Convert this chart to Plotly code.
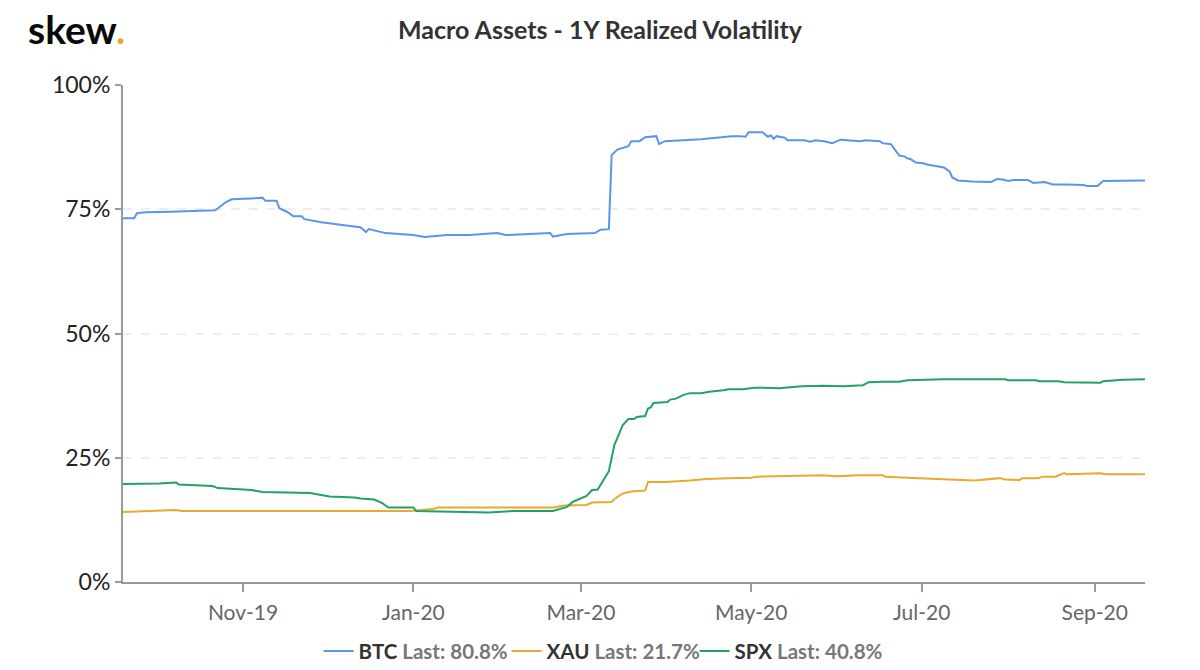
import plotly.graph_objects as go

btc_dates = ["2019-09-19", "2019-09-23", "2019-09-24", "2019-09-27", "2019-10-06", "2019-10-17", "2019-10-22",
             "2019-10-23", "2019-10-26", "2019-10-28", "2019-11-08", "2019-11-09", "2019-11-13", "2019-11-14",
             "2019-11-17", "2019-11-19", "2019-11-22", "2019-11-23", "2019-11-29", "2019-12-10", "2019-12-13",
             "2019-12-15", "2019-12-16", "2019-12-22", "2019-12-26", "2020-01-01", "2020-01-05", "2020-01-13",
             "2020-01-21", "2020-01-31", "2020-02-03", "2020-02-14", "2020-02-19", "2020-02-20", "2020-02-25",
             "2020-03-06", "2020-03-08", "2020-03-11", "2020-03-12", "2020-03-14", "2020-03-18", "2020-03-19",
             "2020-03-22", "2020-03-24", "2020-03-28", "2020-03-29", "2020-03-31", "2020-04-13", "2020-04-24",
             "2020-04-27", "2020-04-29", "2020-04-30", "2020-05-05", "2020-05-07", "2020-05-08", "2020-05-09",
             "2020-05-10", "2020-05-13", "2020-05-14", "2020-05-20", "2020-05-22", "2020-05-24", "2020-05-27",
             "2020-05-30", "2020-06-02", "2020-06-09", "2020-06-11", "2020-06-16", "2020-06-17", "2020-06-20",
             "2020-06-22", "2020-06-23", "2020-06-25", "2020-06-26", "2020-06-27", "2020-06-29", "2020-07-02",
             "2020-07-03", "2020-07-09", "2020-07-11", "2020-07-12", "2020-07-14", "2020-07-19", "2020-07-26",
             "2020-07-28", "2020-07-30", "2020-08-01", "2020-08-03", "2020-08-08", "2020-08-10", "2020-08-14",
             "2020-08-17", "2020-08-22", "2020-08-25", "2020-08-28", "2020-08-29", "2020-09-02", "2020-09-04",
             "2020-09-19"]
btc_vals = [73.2, 73.2, 74.2, 74.4, 74.5, 74.7, 74.8,
            75.2, 76.5, 77.0, 77.3, 76.7, 76.7, 75.2,
            74.4, 73.6, 73.6, 73.0, 72.4, 71.6, 71.4,
            70.4, 71.0, 70.2, 70.0, 69.8, 69.4, 69.8,
            69.8, 70.2, 69.8, 70.0, 70.2, 69.5, 70.0,
            70.2, 70.9, 71.0, 85.9, 87.0, 87.7, 88.7,
            88.7, 89.5, 89.7, 88.1, 88.7, 89.1, 89.7,
            89.7, 89.6, 90.5, 90.5, 89.6, 89.9, 89.2,
            89.7, 89.4, 88.9, 88.9, 88.6, 88.9, 88.7,
            88.3, 89.0, 88.7, 88.9, 88.7, 88.3, 88.1,
            86.6, 85.8, 85.6, 85.2, 85.1, 84.4, 84.2,
            84.0, 83.4, 82.6, 81.4, 80.8, 80.6, 80.5,
            81.1, 81.0, 80.7, 80.9, 80.9, 80.3, 80.5,
            80.0, 80.0, 79.9, 79.9, 79.7, 79.7, 80.7,
            80.8]

xau_dates = ["2019-09-19", "2019-09-27", "2019-10-03", "2019-10-08", "2019-10-10", "2019-10-26", "2019-11-25",
             "2019-11-29", "2019-12-19", "2019-12-31", "2020-01-04", "2020-01-08", "2020-01-10", "2020-01-23",
             "2020-01-25", "2020-02-12", "2020-02-20", "2020-02-24", "2020-03-03", "2020-03-05", "2020-03-12",
             "2020-03-13", "2020-03-16", "2020-03-19", "2020-03-24", "2020-03-25", "2020-03-31", "2020-04-09",
             "2020-04-15", "2020-04-23", "2020-05-01", "2020-05-03", "2020-05-14", "2020-05-27", "2020-05-31",
             "2020-06-09", "2020-06-17", "2020-06-18", "2020-06-30", "2020-07-14", "2020-07-20", "2020-07-29",
             "2020-07-31", "2020-08-05", "2020-08-06", "2020-08-12", "2020-08-13", "2020-08-18", "2020-08-21",
             "2020-08-22", "2020-09-03", "2020-09-05", "2020-09-19"]
xau_vals = [14.1, 14.3, 14.5, 14.5, 14.3, 14.3, 14.3,
            14.2, 14.2, 14.3, 14.5, 14.7, 15.0, 15.0,
            14.9, 15.0, 15.0, 15.4, 15.5, 16.0, 16.1,
            16.7, 17.8, 18.2, 18.4, 20.1, 20.1, 20.4,
            20.7, 20.9, 21.0, 21.2, 21.3, 21.5, 21.3,
            21.5, 21.5, 21.2, 20.9, 20.6, 20.4, 20.9,
            20.6, 20.5, 20.9, 20.9, 21.2, 21.2, 21.9,
            21.7, 21.9, 21.7, 21.7]

spx_dates = ["2019-09-19", "2019-10-02", "2019-10-08", "2019-10-09", "2019-10-21", "2019-10-23", "2019-11-04",
             "2019-11-08", "2019-11-25", "2019-12-02", "2019-12-11", "2019-12-13", "2019-12-18", "2019-12-21",
             "2019-12-23", "2020-01-01", "2020-01-02", "2020-01-18", "2020-01-28", "2020-02-06", "2020-02-20",
             "2020-02-25", "2020-02-27", "2020-03-03", "2020-03-05", "2020-03-07", "2020-03-11", "2020-03-13",
             "2020-03-16", "2020-03-18", "2020-03-20", "2020-03-21", "2020-03-24", "2020-03-25", "2020-03-26",
             "2020-03-27", "2020-04-01", "2020-04-02", "2020-04-04", "2020-04-07", "2020-04-09", "2020-04-13",
             "2020-04-16", "2020-04-21", "2020-04-23", "2020-04-28", "2020-05-02", "2020-05-11", "2020-05-19",
             "2020-05-27", "2020-06-03", "2020-06-10", "2020-06-12", "2020-06-17", "2020-06-23", "2020-06-26",
             "2020-07-09", "2020-07-31", "2020-08-01", "2020-08-11", "2020-08-12", "2020-08-19", "2020-08-21",
             "2020-09-03", "2020-09-04", "2020-09-11", "2020-09-19"]
spx_vals = [19.7, 19.8, 20.0, 19.6, 19.3, 18.9, 18.5,
            18.1, 17.9, 17.2, 17.0, 16.8, 16.6, 15.8,
            15.0, 15.0, 14.3, 14.1, 14.0, 14.3, 14.3,
            15.1, 16.1, 17.3, 18.5, 18.6, 22.3, 27.6,
            31.6, 32.8, 32.8, 33.2, 33.4, 34.9, 35.1,
            36.0, 36.2, 36.7, 36.9, 37.7, 38.0, 38.0,
            38.3, 38.6, 38.8, 38.8, 39.1, 39.0, 39.4,
            39.5, 39.4, 39.6, 40.2, 40.3, 40.3, 40.6,
            40.8, 40.8, 40.6, 40.6, 40.4, 40.4, 40.2,
            40.1, 40.4, 40.7, 40.8]

x_ticks = ["2019-11-01", "2020-01-01", "2020-03-01", "2020-05-01", "2020-07-01", "2020-09-01"]
x_labels = ["Nov-19", "Jan-20", "Mar-20", "May-20", "Jul-20", "Sep-20"]
y_ticks = [0, 25, 50, 75, 100]
y_labels = ["0%", "25%", "50%", "75%", "100%"]

BLUE = "#5b94f0"
ORANGE = "#e9a82e"
GREEN = "#22a262"


def legend_name(sym, last):
    return "<b>" + sym + " <span style='color:#777777'>Last: " + last + "</span></b>"


fig = go.Figure()
fig.add_trace(go.Scatter(x=btc_dates, y=btc_vals, mode="lines", line=dict(color=BLUE, width=2),
                         name=legend_name("BTC", "80.8%")))
fig.add_trace(go.Scatter(x=xau_dates, y=xau_vals, mode="lines", line=dict(color=ORANGE, width=2),
                         name=legend_name("XAU", "21.7%")))
fig.add_trace(go.Scatter(x=spx_dates, y=spx_vals, mode="lines", line=dict(color=GREEN, width=2),
                         name=legend_name("SPX", "40.8%")))

fig.update_layout(
    width=1200,
    height=670,
    margin=dict(l=123, r=55, t=85, b=88),
    paper_bgcolor="white",
    plot_bgcolor="white",
    font=dict(family="Lato", color="#333333"),
    showlegend=True,
    legend=dict(orientation="h", xref="container", yref="container", x=0.5005, xanchor="center",
                y=0.028, yanchor="middle", font=dict(size=20.5, color="#333333"), tracegroupgap=0,
                entrywidth=143, entrywidthmode="pixels"),
    xaxis=dict(range=["2019-09-19", "2020-09-19"], tickvals=x_ticks, ticktext=x_labels, automargin=False,
               showgrid=False, showline=True, linecolor="#999999", linewidth=2,
               ticks="outside", ticklen=8, tickwidth=2, tickcolor="#999999", ticklabelstandoff=3,
               tickfont=dict(size=21, color="#666666"), zeroline=False),
    yaxis=dict(range=[0, 100], tickvals=y_ticks, ticktext=y_labels, automargin=False,
               showgrid=True, gridcolor="#eeeeee", griddash="dash", gridwidth=2,
               showline=True, linecolor="#999999", linewidth=2,
               ticks="outside", ticklen=6, tickwidth=2, tickcolor="#999999",
               tickfont=dict(size=23, color="#222222"), zeroline=False),
)

fig.add_annotation(text="<b>Macro Assets - 1Y Realized Volatility</b>", xref="paper", yref="paper",
                   x=0.5, xshift=-34, y=1, xanchor="center", yanchor="bottom", yshift=39, showarrow=False,
                   font=dict(size=25, color="#333333"))
fig.add_annotation(text="<b>skew</b><span style='color:#e9a82e'><b>.</b></span>", xref="paper", yref="paper",
                   x=0, xshift=-97, y=1, yanchor="bottom", xanchor="left", yshift=31, showarrow=False,
                   font=dict(size=39, color="#0a0a0a"))

# page has a default body margin, drop it so the figure fills the window
fig.write_html("out.html", post_script="document.body.style.margin = '0';",
               config={"displayModeBar": False})
